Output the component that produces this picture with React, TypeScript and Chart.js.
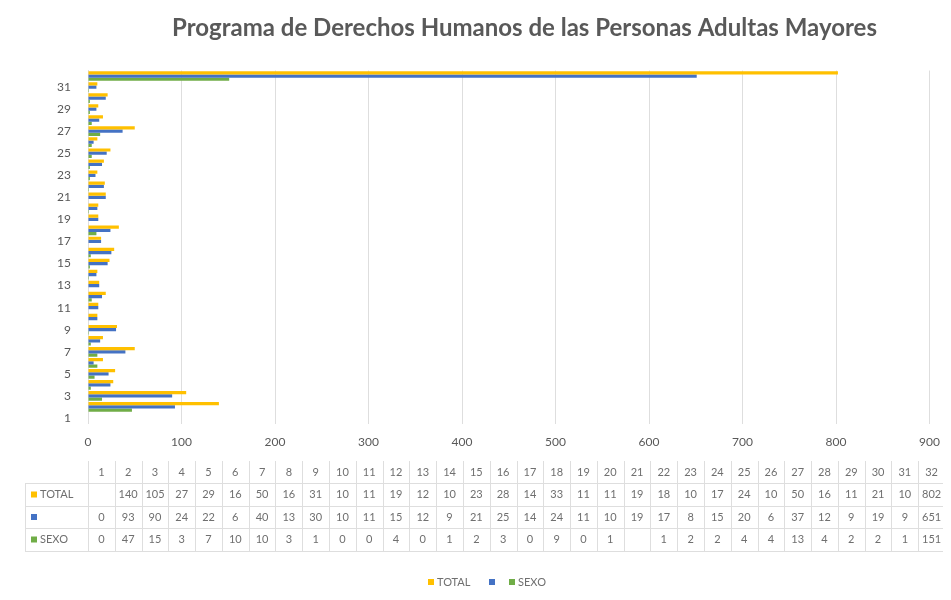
import React, { useEffect, useRef } from 'react';
import { Chart, registerables } from 'chart.js';

Chart.register(...registerables);

const chartTitle = 'Programa de Derechos Humanos de las Personas Adultas Mayores';
const categories = ['1','2','3','4','5','6','7','8','9','10','11','12','13','14','15','16','17','18','19','20','21','22','23','24','25','26','27','28','29','30','31','32'];
const seriesNames = ['TOTAL', '', 'SEXO'];
const totalValues = [null,140,105,27,29,16,50,16,31,10,11,19,12,10,23,28,14,33,11,11,19,18,10,17,24,10,50,16,11,21,10,802];
const blueValues = [0,93,90,24,22,6,40,13,30,10,11,15,12,9,21,25,14,24,11,10,19,17,8,15,20,6,37,12,9,19,9,651];
const sexoValues = [0,47,15,3,7,10,10,3,1,0,0,4,0,1,2,3,0,9,0,1,null,1,2,2,4,4,13,4,2,2,1,151];
const xMin = 0;
const xMax = 900;
const xStep = 100;

const COLORS = ['#FFC000', '#4472C4', '#70AD47'];
const TEXT = '#595959';
const TABLE_TEXT = '#6f6f6f';
const GRID = '#dedede';
const FONT = 'Lato, "Open Sans", sans-serif';

const extrasPlugin = {
  id: 'extras',
  afterDraw(chart: any) {
    const { ctx, chartArea } = chart;
    const series = [totalValues, blueValues, sexoValues];
    ctx.save();

    // Title
    ctx.fillStyle = TEXT;
    ctx.textAlign = 'center';
    ctx.textBaseline = 'middle';
    let size = 20;
    ctx.font = `bold ${size}px ${FONT}`;
    const w = ctx.measureText(chartTitle).width;
    size = size * 705 / w;
    ctx.font = `bold ${size}px ${FONT}`;
    ctx.fillText(chartTitle, 524.5, 28.5);

    // Data table
    const left = chartArea.left;
    const right = 945;
    const labelLeft = 25;
    const n = categories.length;
    const colW = (right - left) / n;
    const headTop = 461;
    const rowTops = [483, 506, 528, 551];
    ctx.strokeStyle = GRID;
    ctx.lineWidth = 1;
    ctx.beginPath();
    for (const y of rowTops) {
      ctx.moveTo(labelLeft, Math.round(y) + 0.5);
      ctx.lineTo(right, Math.round(y) + 0.5);
    }
    ctx.moveTo(labelLeft + 0.5, rowTops[0]);
    ctx.lineTo(labelLeft + 0.5, rowTops[3]);
    for (let i = 0; i <= n; i++) {
      const x = Math.round(left + i * colW) + 0.5;
      ctx.moveTo(x, headTop);
      ctx.lineTo(x, rowTops[3]);
    }
    ctx.stroke();

    ctx.font = `11px ${FONT}`;
    ctx.fillStyle = TABLE_TEXT;
    ctx.textAlign = 'center';
    for (let i = 0; i < n; i++) {
      const cx = left + (i + 0.5) * colW;
      ctx.fillText(categories[i], cx, (headTop + rowTops[0]) / 2);
      for (let s = 0; s < 3; s++) {
        const v = series[s][i];
        if (v !== null && v !== undefined) {
          ctx.fillText(String(v), cx, (rowTops[s] + rowTops[s + 1]) / 2);
        }
      }
    }
    ctx.textAlign = 'left';
    for (let s = 0; s < 3; s++) {
      const cy = (rowTops[s] + rowTops[s + 1]) / 2;
      ctx.fillStyle = COLORS[s];
      ctx.fillRect(31, cy - 3, 6, 6);
      ctx.fillStyle = TABLE_TEXT;
      ctx.fillText(seriesNames[s], 40, cy);
    }

    // Legend
    const ly = 582;
    const items = [
      { x: 428, label: seriesNames[0], c: COLORS[0] },
      { x: 489, label: seriesNames[1], c: COLORS[1] },
      { x: 509, label: seriesNames[2], c: COLORS[2] },
    ];
    for (const it of items) {
      ctx.fillStyle = it.c;
      ctx.fillRect(it.x, ly - 3, 6, 6);
      ctx.fillStyle = TABLE_TEXT;
      ctx.fillText(it.label, it.x + 9, ly);
    }
    ctx.restore();
  },
};

export default function App() {
  const ref = useRef<HTMLCanvasElement | null>(null);
  useEffect(() => {
    if (!ref.current) return;
    const chart = new Chart(ref.current, {
      type: 'bar',
      data: {
        labels: categories,
        datasets: [
          { label: seriesNames[0], data: totalValues, backgroundColor: COLORS[0] },
          { label: seriesNames[1], data: blueValues, backgroundColor: COLORS[1] },
          { label: seriesNames[2], data: sexoValues, backgroundColor: COLORS[2] },
        ],
      },
      options: {
        indexAxis: 'y',
        animation: false,
        responsive: false,
        maintainAspectRatio: false,
        datasets: { bar: { categoryPercentage: 0.88, barPercentage: 1 } },
        layout: { padding: { top: 70.5, right: 21, left: 0, bottom: 0 } },
        plugins: {
          legend: { display: false },
          title: { display: false },
          tooltip: { enabled: false },
        },
        scales: {
          x: {
            type: 'linear',
            min: xMin,
            max: xMax,
            ticks: { stepSize: xStep, color: TEXT, font: { family: FONT, size: 12 }, padding: 11 },
            grid: { color: GRID, drawTicks: false },
            border: { display: false },
            afterFit(scale: any) { scale.height = 600 - 423.5; },
          },
          y: {
            reverse: true,
            ticks: {
              autoSkip: false,
              color: TEXT,
              font: { family: FONT, size: 12 },
              padding: 17,
              callback(_v: any, i: number) { return i % 2 === 0 ? categories[i] : ''; },
            },
            grid: { display: false, drawTicks: false },
            border: { display: true, color: GRID },
            afterFit(scale: any) { scale.width = 88; },
          },
        },
      },
      plugins: [extrasPlugin],
    });
    return () => chart.destroy();
  }, []);
  return (
    <div style={{ margin: '-8px 0 0 -8px', width: 951, height: 600 }}>
      <canvas ref={ref} width={951} height={600} style={{ display: 'block' }} />
    </div>
  );
}
